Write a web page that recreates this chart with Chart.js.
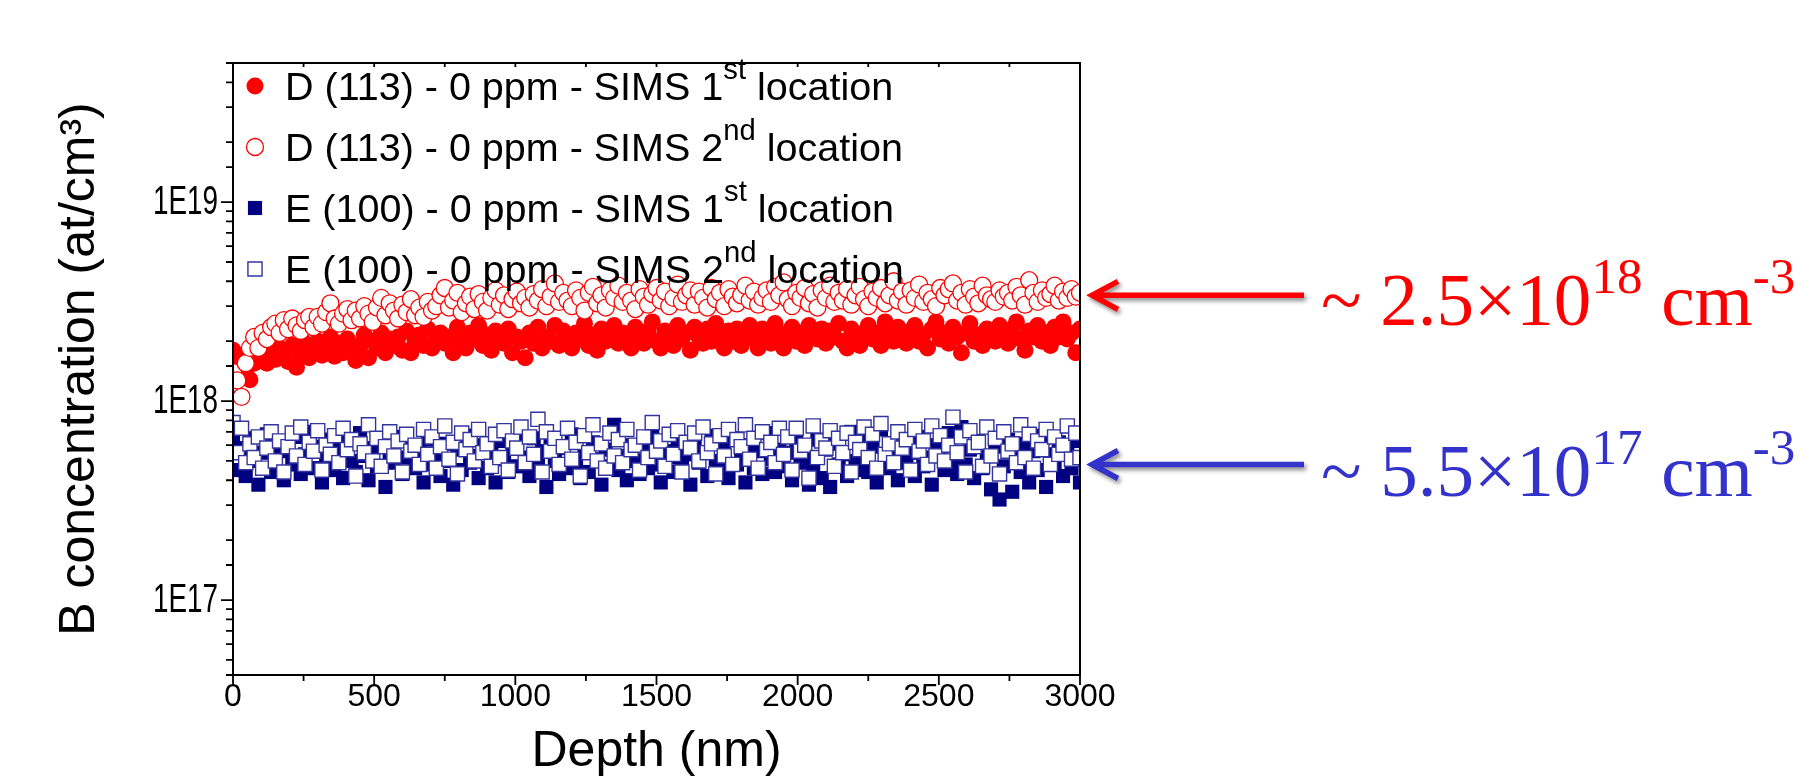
<!DOCTYPE html>
<html>
<head>
<meta charset="utf-8">
<script src="https://cdn.jsdelivr.net/npm/chart.js@4.4.1/dist/chart.umd.min.js"></script>
<style>
html, body { margin: 0; padding: 0; background: #fff; }
#wrap { position: relative; width: 1801px; height: 780px; overflow: hidden; }
#myChart { position: absolute; left: 0; top: 0; }
.leg { position: absolute; left: 285px; font: 39.5px "Liberation Sans", Arial, sans-serif; line-height: 40px; white-space: nowrap; color: #000; }
.leg sup { font-size: 74%; line-height: 0; vertical-align: baseline; position: relative; top: -0.72em; }
.note { position: absolute; left: 1321px; font: 75px "Liberation Serif", "Times New Roman", serif; line-height: 75px; white-space: nowrap; }
.note sup { font-size: 68%; line-height: 0; vertical-align: baseline; position: relative; top: -0.62em; }
</style>
</head>
<body>
<div id="wrap">
  <canvas id="myChart" width="1801" height="780"></canvas>
  <div class="leg" style="top:66px">D (113) - 0 ppm - SIMS 1<sup>st</sup> location</div>
  <div class="leg" style="top:127px">D (113) - 0 ppm - SIMS 2<sup>nd</sup> location</div>
  <div class="leg" style="top:188px">E (100) - 0 ppm - SIMS 1<sup>st</sup> location</div>
  <div class="leg" style="top:249px">E (100) - 0 ppm - SIMS 2<sup>nd</sup> location</div>
  <div class="note" style="top:262px;color:#ff0000">~ 2.5×10<sup>18</sup> cm<sup>-3</sup></div>
  <div class="note" style="top:433px;color:#3333cc">~ 5.5×10<sup>17</sup> cm<sup>-3</sup></div>
</div>
<script>
// depth (nm)
const depth = [
  0, 15, 30, 45, 60, 75, 90, 105, 120, 135,
  150, 165, 180, 195, 210, 225, 240, 255, 270, 285,
  300, 315, 330, 345, 360, 375, 390, 405, 420, 435,
  450, 465, 480, 495, 510, 525, 540, 555, 570, 585,
  600, 615, 630, 645, 660, 675, 690, 705, 720, 735,
  750, 765, 780, 795, 810, 825, 840, 855, 870, 885,
  900, 915, 930, 945, 960, 975, 990, 1005, 1020, 1035,
  1050, 1065, 1080, 1095, 1110, 1125, 1140, 1155, 1170, 1185,
  1200, 1215, 1230, 1245, 1260, 1275, 1290, 1305, 1320, 1335,
  1350, 1365, 1380, 1395, 1410, 1425, 1440, 1455, 1470, 1485,
  1500, 1515, 1530, 1545, 1560, 1575, 1590, 1605, 1620, 1635,
  1650, 1665, 1680, 1695, 1710, 1725, 1740, 1755, 1770, 1785,
  1800, 1815, 1830, 1845, 1860, 1875, 1890, 1905, 1920, 1935,
  1950, 1965, 1980, 1995, 2010, 2025, 2040, 2055, 2070, 2085,
  2100, 2115, 2130, 2145, 2160, 2175, 2190, 2205, 2220, 2235,
  2250, 2265, 2280, 2295, 2310, 2325, 2340, 2355, 2370, 2385,
  2400, 2415, 2430, 2445, 2460, 2475, 2490, 2505, 2520, 2535,
  2550, 2565, 2580, 2595, 2610, 2625, 2640, 2655, 2670, 2685,
  2700, 2715, 2730, 2745, 2760, 2775, 2790, 2805, 2820, 2835,
  2850, 2865, 2880, 2895, 2910, 2925, 2940, 2955, 2970, 2985,
  3000
];

// B concentration, in units of 1E17 at/cm3
const dFirst = [
  18, 16.5, 14.5, 14, 12.8, 15.5, 16, 17.5, 15.5, 17,
  16.2, 18.5, 17, 15.8, 19, 14.8, 17.5, 19.5, 16.5, 18.5,
  20, 17, 18.5, 21, 16.8, 19.5, 17.5, 20.5, 18, 16,
  19, 21.5, 16.5, 20, 18.5, 22, 17.5, 20.5, 19, 21,
  18, 22.5, 17.5, 20, 21.5, 19, 23, 18.5, 20.5, 22,
  19.5, 21, 17.5, 23.5, 20, 18.5, 22, 20.5, 24, 19,
  21.5, 18, 22.5, 20, 19.5, 23, 17.5, 21, 20, 16.5,
  22, 19.5, 23.5, 18.5, 21, 20, 24, 19, 22.5, 20.5,
  18.5, 22, 20.5, 24.5, 19, 21.5, 18, 23, 20, 21.5,
  24, 19.5, 22, 20.5, 18.5, 23.5, 21, 19.5, 22.5, 25,
  20, 18.5, 22.5, 21, 19, 24, 20.5, 22, 18, 23.5,
  21, 19.5, 23, 20, 24.5, 21.5, 18.5, 22.5, 20, 23,
  19, 22, 24, 20.5, 18.5, 23, 21, 19.5, 24.5, 22,
  18.5, 21.5, 23.5, 20, 22, 19, 24, 21, 20.5, 23,
  19.5, 22.5, 21, 24.5, 20, 18.5, 23, 21.5, 19, 22,
  24, 20.5, 22, 19, 25, 21, 20, 23.5, 21.5, 19.5,
  22.5, 24, 20, 21.5, 18.5, 23, 25, 20.5, 22, 19.5,
  23.5, 21, 17.5, 22, 24.5, 20, 21.5, 19, 23, 22,
  20, 24, 21.5, 19.5, 23, 25, 20.5, 18, 22.5, 21,
  24, 20, 22, 19, 23.5, 21, 25, 20.5, 22, 17.5,
  23
];
const dSecond = [
  14, 12.7, 10.5, 15.5, 18.5, 21, 18.5, 22, 20.5, 23.5,
  24.5, 22, 25.5, 23, 26, 24, 22.5, 25.5, 26.5, 23.5,
  26.5, 24.5, 28, 31, 26, 24.5, 27.5, 29, 25.5, 28.5,
  26, 30, 27.5, 25, 29.5, 33, 27, 31, 28.5, 26,
  30.5, 28, 32.5, 27, 29.5, 26.5, 31.5, 28.5, 30, 34,
  37, 29.5, 32, 35, 28, 31, 33.5, 29, 34.5, 31.5,
  28.5, 33, 36, 30.5, 34, 29, 32.5, 35.5, 31, 33,
  29.5, 34.5, 32, 36.5, 30, 33.5, 39, 31.5, 35, 32,
  30, 36, 33, 28.5, 35, 37.5, 31, 34, 29.5, 36,
  33, 38, 31.5, 35, 32, 29, 36.5, 33.5, 30.5, 34.5,
  37, 32, 35.5, 30, 33, 38.5, 31.5, 34, 36, 30.5,
  35.5, 33, 29.5, 37, 32.5, 35, 30, 36.5, 33.5, 31,
  34, 38, 32, 35.5, 30.5, 33, 36, 31.5, 37.5, 34,
  39.5, 32.5, 30, 35, 33, 37, 31, 34.5, 29.5, 36,
  33, 38, 31.5, 35, 32, 36.5, 30.5, 34, 37.5, 32.5,
  30, 35.5, 33, 37, 31, 34, 40, 32, 35.5, 30.5,
  36, 33, 38.5, 31.5, 35, 32.5, 30, 37, 34, 36.5,
  39, 32, 35, 30.5, 36.5, 33.5, 31, 38, 34, 32.5,
  31.5, 36, 33.5, 35, 32, 37.5, 34, 30.5, 40.5, 35,
  31.5, 36, 33, 34.5, 38, 32, 35.5, 33, 36.5, 33.5,
  35
];
const eFirst = [
  6.2, 4.5, 5.8, 4.2, 6.5, 5, 3.8, 5.5, 6.8, 4.4,
  5.2, 6, 4, 5.6, 4.8, 6.6, 4.3, 5.4, 7, 4.6,
  5.9, 3.9, 5.1, 6.4, 4.5, 5.7, 4.1, 6.2, 5, 4.4,
  6.9, 5.3, 4, 5.8, 4.7, 6.3, 3.7, 5.5, 4.9, 6.6,
  4.3, 5.2, 6, 4.6, 5.6, 3.9, 6.4, 4.8, 5.4, 4.2,
  6.1, 5, 3.8, 5.7, 4.5, 6.7, 4.9, 5.3, 4.1, 6,
  4.6, 5.5, 3.9, 6.3, 5.1, 4.4, 5.9, 4.7, 6.8, 5.2,
  4.2, 6.5, 4.8, 5.6, 3.7, 6.1, 5, 4.3, 5.8, 4.6,
  6.8, 4.9, 4.1, 5.5, 4.4, 6.2, 5.1, 3.8, 5.7, 4.7,
  7.6, 4.5, 5.3, 4, 6, 5, 4.3, 5.9, 4.6, 6.6,
  4.8, 3.9, 5.6, 5.2, 4.4, 6.3, 4.7, 5.4, 3.8, 6.1,
  4.9, 5.5, 4.2, 6.7, 5, 4.5, 5.8, 4.1, 6.5, 4.8,
  5.3, 3.9, 6, 4.6, 5.6, 4.3, 6.9, 5.1, 4.4, 5.7,
  4.7, 5.5, 4, 6.2, 4.9, 5.3, 3.8, 4.6, 6.4, 4.1,
  5.7, 3.7, 6.1, 4.8, 5.4, 4.2, 7, 5, 4.5, 6.3,
  4.4, 5.9, 3.9, 7.2, 5.1, 4.6, 5.6, 4, 6.2, 4.9,
  5.5, 4.2, 6.6, 4.7, 5.2, 3.8, 6, 5.4, 4.5, 6.9,
  5, 4.3, 7.4, 4.8, 5.7, 4.1, 6.3, 4.6, 5.3, 3.6,
  5.9, 3.2, 4.7, 6.4, 3.5, 5.2, 4.4, 6.1, 3.9, 5.6,
  4.5, 6.7, 3.7, 5.4, 4.9, 6.2, 4.2, 5.8, 4.6, 6.3,
  3.9
];
const eSecond = [
  7.8, 5.5, 7.3, 4.9, 6.1, 5.2, 6.6, 4.6, 5.8, 7,
  5, 6.3, 4.4, 5.9, 6.9, 5.3, 7.4, 4.8, 6.2, 5.6,
  7.1, 4.5, 6, 5.4, 6.7, 4.9, 7.3, 5.7, 6.4, 4.2,
  6.1, 5.5, 7.6, 5, 6.5, 4.7, 5.9, 7, 5.3, 6.3,
  4.4, 6.8, 5.6, 6, 4.8, 7.2, 5.4, 6.6, 4.6, 5.9,
  7.5, 5.1, 6.2, 4.3, 6.9, 5.7, 6.4, 5, 7.2, 5.5,
  6.1, 4.7, 6.8, 5.2, 7.1, 4.5, 6.3, 5.8, 7.4, 4.9,
  6.6, 5.4, 8.1, 4.4, 7, 5.6, 6.5, 4.8, 5.9, 7.3,
  5.1, 6.2, 4.2, 6.7, 5.5, 7.6, 5, 6.1, 4.6, 6.9,
  5.3, 6.4, 4.9, 7.2, 5.7, 6, 4.5, 6.6, 5.2, 7.8,
  5.6, 6.3, 4.7, 6.8, 5.4, 7.1, 4.4, 6.2, 5.8, 6.9,
  5, 7.4, 5.5, 6.1, 4.3, 6.7, 5.3, 7.2, 4.8, 6.4,
  5.9, 7.6, 5.1, 6.5, 4.6, 7, 5.7, 6.2, 4.9, 7.3,
  5.4, 6.6, 4.5, 7.3, 5.6, 6, 4.1, 7.5, 5.2, 6.3,
  5.8, 7.1, 4.7, 6.5, 5.5, 6.9, 4.4, 6.2, 5.7, 7.4,
  5.2, 6.8, 4.6, 7.7, 5.4, 6.1, 4.9, 7, 5.8, 6.4,
  4.5, 7.2, 5.6, 6.3, 4.8, 7.5, 5.3, 6.7, 5, 6,
  8.3, 5.5, 6.6, 4.4, 7.1, 5.9, 6.2, 4.7, 7.4, 5.3,
  6.5, 4.3, 7, 5.6, 6.1, 4.9, 7.6, 5.2, 6.8, 4.6,
  6.3, 5.7, 7.2, 4.8, 6.6, 5.4, 6, 7.5, 5.1, 6.9,
  5.2
];

// levels marked by the arrows on the right (at/cm3)
const arrowLevels = [3.4e18, 4.8e17];
const arrowColors = ['#ff0000', '#3333cc'];

// plot box in page pixels
const PLOT_LEFT = 233, PLOT_RIGHT = 1080, PLOT_TOP = 63, PLOT_BOTTOM = 675;
const LEG_X = 255, LEG_Y = [86, 147, 208, 269];
const TICK_FONT = '41px "Liberation Sans", Arial, sans-serif';

function points(values) {
    return values.map((v, i) => ({ x: depth[i], y: v * 1e17 }));
}

function isDecade(v) {
    const e = Math.log10(v);
    return Math.abs(e - Math.round(e)) < 1e-9;
}

// axis box, tick marks and the condensed y labels
const framePlugin = {
    id: 'frame',
    afterDatasetsDraw(chart) {
        const { ctx, chartArea: a, scales: { x, y } } = chart;
        ctx.save();
        ctx.strokeStyle = '#000';
        ctx.lineWidth = 2;
        ctx.strokeRect(a.left, a.top, a.right - a.left, a.bottom - a.top);
        ctx.lineWidth = 1.8;
        ctx.beginPath();
        y.ticks.forEach(t => {
            const py = y.getPixelForValue(t.value);
            const len = isDecade(t.value) ? 12 : 7;
            ctx.moveTo(a.left, py);
            ctx.lineTo(a.left - len, py);
        });
        x.ticks.forEach(t => {
            const px = x.getPixelForValue(t.value);
            const len = t.value % 500 === 0 ? 10 : 6;
            ctx.moveTo(px, a.bottom);
            ctx.lineTo(px, a.bottom + len);
            ctx.moveTo(px, a.top);
            ctx.lineTo(px, a.top + 4);
        });
        ctx.stroke();

        // y tick labels, horizontally condensed like the original
        ctx.fillStyle = '#000';
        ctx.font = TICK_FONT;
        ctx.textAlign = 'right';
        ctx.textBaseline = 'middle';
        y.ticks.forEach(t => {
            if (!isDecade(t.value)) return;
            const py = y.getPixelForValue(t.value);
            ctx.save();
            ctx.translate(a.left - 15, py + 1);
            ctx.scale(0.68, 1);
            ctx.fillText('1E' + Math.round(Math.log10(t.value)), 0, 0);
            ctx.restore();
        });
        ctx.restore();
    },
    afterDraw(chart) {
        const { ctx, chartArea: a, scales: { y } } = chart;
        ctx.save();

        // legend markers
        chart.data.datasets.forEach((ds, i) => {
            const cy = LEG_Y[i];
            ctx.beginPath();
            if (ds.pointStyle === 'circle') {
                ctx.arc(LEG_X, cy, ds.pointRadius, 0, Math.PI * 2);
            } else {
                const s = ds.pointRadius * Math.SQRT1_2;
                ctx.rect(LEG_X - s, cy - s, 2 * s, 2 * s);
            }
            ctx.fillStyle = ds.backgroundColor;
            ctx.fill();
            if (ds.borderWidth) {
                ctx.lineWidth = ds.borderWidth;
                ctx.strokeStyle = ds.borderColor;
                ctx.stroke();
            }
        });

        // arrows pointing at the plateau levels
        ctx.lineWidth = 5.5;
        ctx.lineCap = 'butt';
        ctx.lineJoin = 'miter';
        ctx.shadowColor = 'rgba(0,0,0,0.45)';
        ctx.shadowBlur = 4;
        ctx.shadowOffsetX = 2;
        ctx.shadowOffsetY = 3;
        arrowLevels.forEach((lv, i) => {
            const py = y.getPixelForValue(lv);
            const tip = a.right + 12;
            ctx.strokeStyle = arrowColors[i];
            ctx.beginPath();
            ctx.moveTo(tip + 3, py);
            ctx.lineTo(a.right + 224, py);
            ctx.moveTo(tip + 26, py - 14);
            ctx.lineTo(tip, py);
            ctx.lineTo(tip + 26, py + 14);
            ctx.stroke();
        });
        ctx.restore();
    }
};

const ctx = document.getElementById('myChart').getContext('2d');
const myChart = new Chart(ctx, {
    type: 'scatter',
    data: {
        datasets: [
            {
                label: 'D (113) - 0 ppm - SIMS 1st location',
                data: points(dFirst),
                pointStyle: 'circle',
                pointRadius: 8.5,
                backgroundColor: '#ff0000',
                borderColor: '#ff0000',
                borderWidth: 0,
                order: 4,
                clip: 0
            },
            {
                label: 'D (113) - 0 ppm - SIMS 2nd location',
                data: points(dSecond),
                pointStyle: 'circle',
                pointRadius: 8.5,
                backgroundColor: '#ffffff',
                borderColor: '#ff0000',
                borderWidth: 1.3,
                order: 3,
                clip: 0
            },
            {
                label: 'E (100) - 0 ppm - SIMS 1st location',
                data: points(eFirst),
                pointStyle: 'rect',
                pointRadius: 10,
                backgroundColor: '#000080',
                borderColor: '#000080',
                borderWidth: 0,
                order: 2,
                clip: 0
            },
            {
                label: 'E (100) - 0 ppm - SIMS 2nd location',
                data: points(eSecond),
                pointStyle: 'rect',
                pointRadius: 10,
                backgroundColor: '#ffffff',
                borderColor: '#34349e',
                borderWidth: 1.4,
                order: 1,
                clip: 0
            }
        ]
    },
    options: {
        responsive: false,
        animation: false,
        events: [],
        layout: { padding: { left: 0, top: PLOT_TOP, right: 1801 - PLOT_RIGHT, bottom: 3 } },
        plugins: { legend: { display: false }, tooltip: { enabled: false } },
        scales: {
            x: {
                type: 'linear',
                min: 0,
                max: 3000,
                grid: { display: false, drawTicks: false },
                border: { display: false },
                ticks: {
                    stepSize: 250,
                    autoSkip: false,
                    maxRotation: 0,
                    padding: 3,
                    color: '#000',
                    font: { family: '"Liberation Sans", Arial, sans-serif', size: 32 },
                    callback: v => (v % 500 === 0 ? String(v) : '')
                },
                title: {
                    display: true,
                    text: 'Depth (nm)',
                    color: '#000',
                    padding: { top: 0, bottom: 0 },
                    font: { family: '"Liberation Sans", Arial, sans-serif', size: 50, lineHeight: 1 }
                },
                afterFit: s => { s.height = 780 - 3 - PLOT_BOTTOM; }
            },
            y: {
                type: 'logarithmic',
                min: 4.2e16,
                max: 5e19,
                grid: { display: false, drawTicks: false },
                border: { display: false },
                ticks: {
                    display: false,
                    autoSkip: false,
                    callback: v => (isDecade(v) ? '1E' + Math.round(Math.log10(v)) : '')
                },
                title: {
                    display: true,
                    text: 'B concentration (at/cm³)',
                    color: '#000',
                    padding: { top: 55, bottom: 0 },
                    font: { family: '"Liberation Sans", Arial, sans-serif', size: 50, lineHeight: 1 }
                },
                afterFit: s => { s.width = PLOT_LEFT; }
            }
        }
    },
    plugins: [framePlugin]
});
</script>
</body>
</html>
